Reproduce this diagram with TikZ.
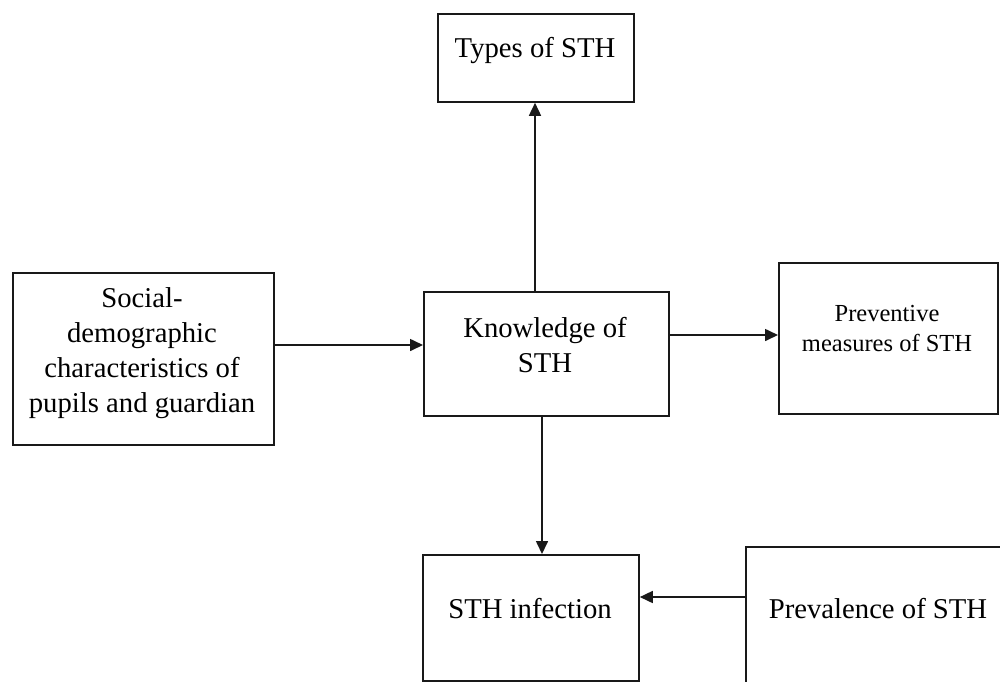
\documentclass[tikz,border=0pt]{standalone}
\usepackage{fontspec}
\setmainfont{Liberation Serif}
\usetikzlibrary{arrows.meta}
\begin{document}
\begin{tikzpicture}[x=1pt,y=-1pt,
  box/.style={draw=black!90,line width=1.8pt,rectangle,inner sep=0pt,anchor=north west},
  lbl/.style={inner sep=0pt,align=center,anchor=base,font=\fontsize{28.7}{35}\selectfont},
  small/.style={inner sep=0pt,align=center,anchor=base,font=\fontsize{24.5}{30}\selectfont},
  conn/.style={draw=black!90,line width=1.6pt,-{Triangle[length=13pt,width=12pt]}}]
\useasboundingbox (0,0) rectangle (1000,681);
\fill[white] (0,0) rectangle (1000,681);
% boxes
\node[box,minimum width=196pt,minimum height=88pt] (types) at (437,13) {};
\node[box,minimum width=261pt,minimum height=172pt] (soc) at (12,272) {};
\node[box,minimum width=245pt,minimum height=124pt] (know) at (423,291) {};
\node[box,minimum width=219pt,minimum height=151pt] (prev) at (778,262) {};
\node[box,minimum width=216pt,minimum height=126pt] (inf) at (422,554) {};
\path[draw=black!90,line width=1.8pt] (746,690) -- (746,547) coordinate (pa) -- (1010,547);
\coordinate (prevalence) at (746,597);
% texts (base anchor = baseline of last line)
\node[lbl] (t1) at (535,57) {Types of STH};
\node[lbl] (t2) at (142,412) {Social-\\demographic\\characteristics of\\pupils and guardian};
\node[lbl] (t3) at (545,372) {Knowledge of\\STH};
\node[small] (t4) at (887,351) {Preventive\\measures of STH};
\node[lbl] (t5) at (530,618) {STH infection};
\node[lbl] (t6) at (878,618) {Prevalence of STH};
% connectors
\draw[conn] (soc.east |- 0,345) -- (know.west |- 0,345);
\draw[conn] (know.north -| 535,0) -- (types.south -| 535,0);
\draw[conn] (know.east |- 0,335) -- (prev.west |- 0,335);
\draw[conn] (know.south -| 542,0) -- (inf.north -| 542,0);
\draw[conn] (prevalence) -- (inf.east |- prevalence);
\end{tikzpicture}
\end{document}
